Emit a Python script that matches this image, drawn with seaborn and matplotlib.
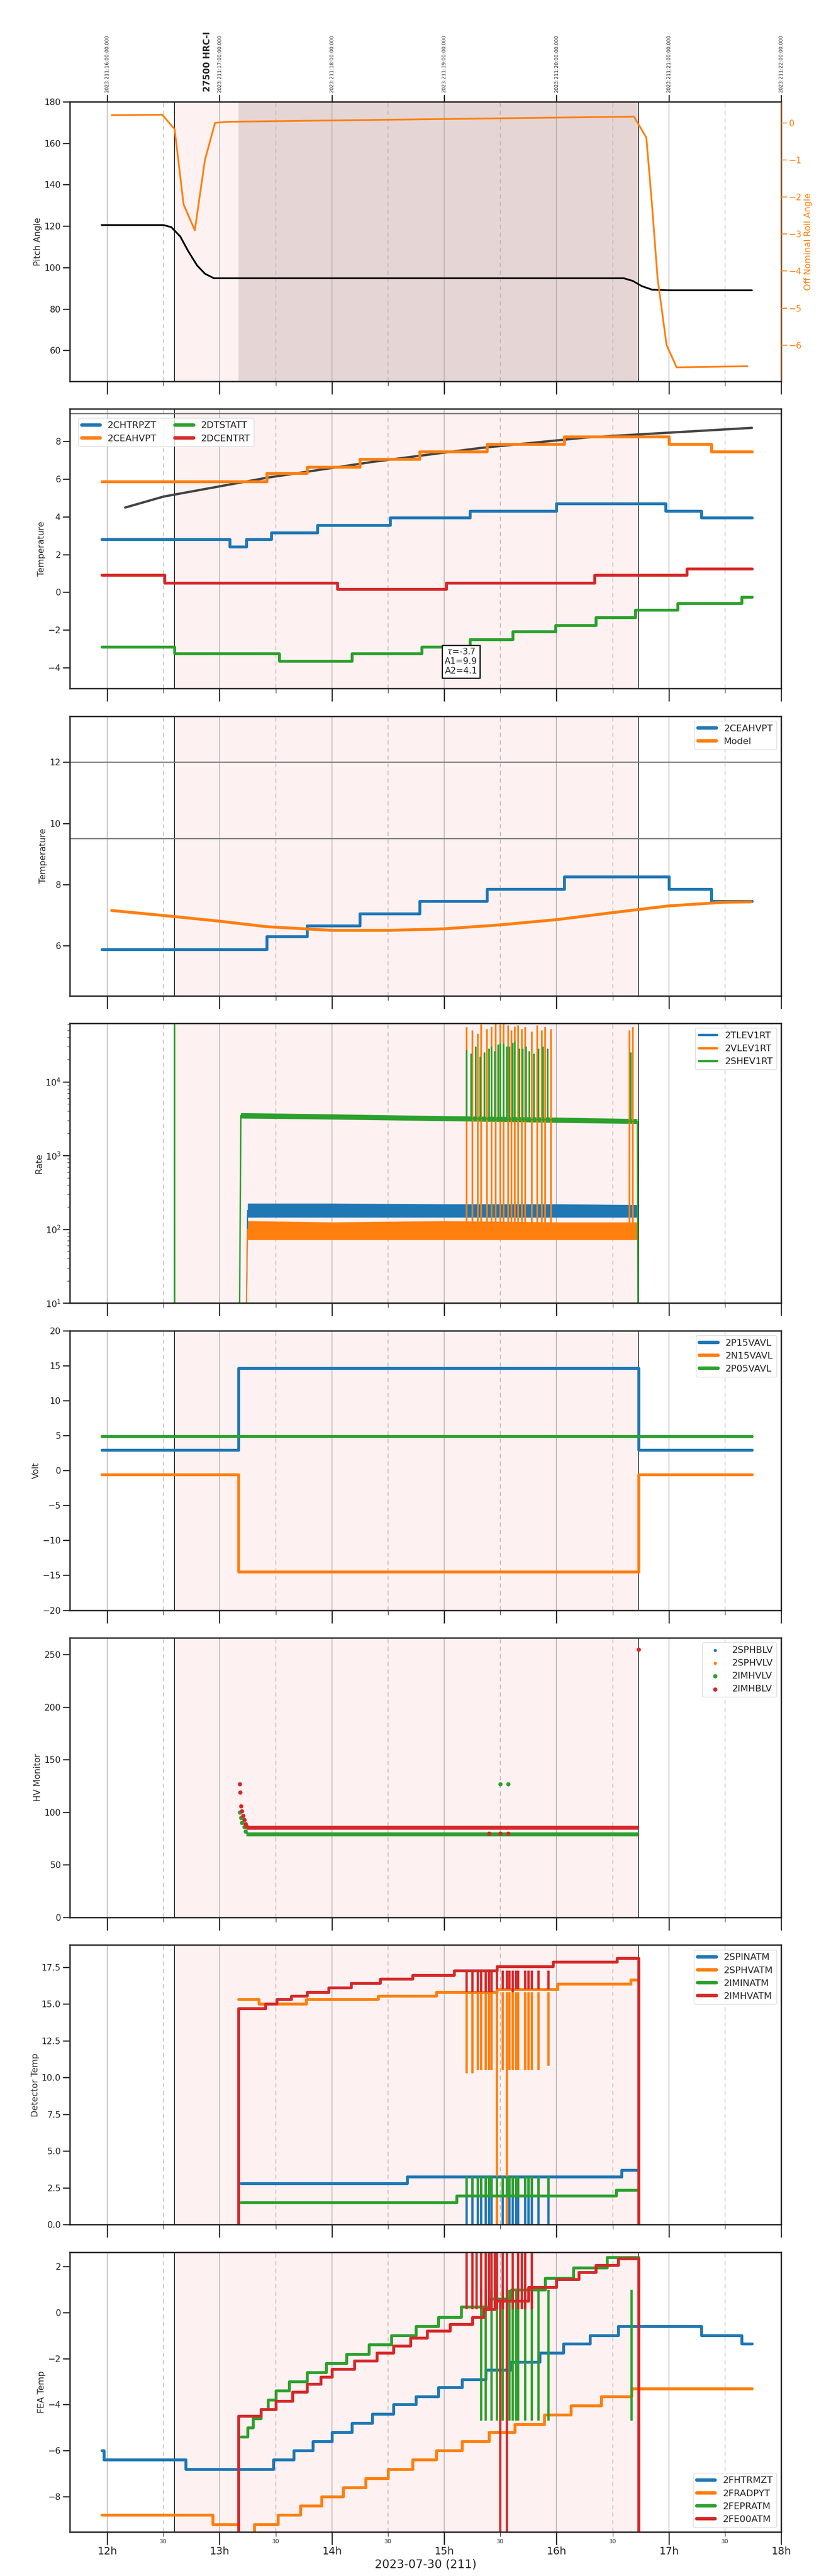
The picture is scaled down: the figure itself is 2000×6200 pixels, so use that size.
import matplotlib
matplotlib.use("Agg")
import matplotlib.pyplot as plt
import numpy as np
import seaborn as sns
from matplotlib.ticker import FixedLocator, NullFormatter

sns.set_theme(style="ticks")
plt.rcParams["font.family"] = ["DejaVu Sans"]

# ---------------- data (hours of 2023-07-30) ----------------
XLIM = (11.667, 18.0)
OBS_START, OBS_END = 12.60, 16.73
DARK_START = 13.17
OBS_LABEL = "27500 HRC-I"
OBS_LABEL_X = 12.89
TOP_HOURS = [12, 13, 14, 15, 16, 17, 18]
TOP_LABELS = ["2023:211:16:00:00.000", "2023:211:17:00:00.000", "2023:211:18:00:00.000",
              "2023:211:19:00:00.000", "2023:211:20:00:00.000", "2023:211:21:00:00.000",
              "2023:211:22:00:00.000"]

pitch_t = [11.95, 12.50, 12.57, 12.65, 12.72, 12.80, 12.87, 12.95, 16.60, 16.68, 16.76, 16.85, 17.00, 17.74]
pitch_v = [120.5, 120.5, 119.5, 115.0, 108.0, 101.0, 97.0, 94.8, 94.8, 93.5, 91.0, 89.3, 89.0, 89.0]
roll_t = [12.04, 12.49, 12.60, 12.68, 12.78, 12.87, 12.96, 13.07, 16.69, 16.80, 16.85, 16.90, 16.98, 17.07, 17.70]
roll_v = [0.21, 0.22, -0.17, -2.2, -2.9, -1.0, 0.0, 0.03, 0.17, -0.4, -2.2, -4.2, -6.0, -6.6, -6.57]

chtrpzt_t = [11.95, 13.09, 13.24, 13.46, 13.87, 14.52, 15.23, 16.00, 16.97, 17.29, 17.74]
chtrpzt_v = [2.8, 2.4, 2.8, 3.15, 3.55, 3.95, 4.3, 4.7, 4.3, 3.95, 3.95]
ceahvpt_t = [11.95, 13.42, 13.78, 14.25, 14.78, 15.38, 16.07, 17.00, 17.38, 17.74]
ceahvpt_v = [5.88, 6.3, 6.65, 7.05, 7.45, 7.85, 8.25, 7.85, 7.45, 7.45]
dtstatt_t = [11.95, 12.60, 13.53, 14.18, 14.80, 15.23, 15.61, 15.99, 16.35, 16.70, 17.08, 17.65, 17.74]
dtstatt_v = [-2.9, -3.25, -3.65, -3.25, -2.9, -2.5, -2.1, -1.75, -1.35, -0.95, -0.6, -0.25, -0.25]
dcentrt_t = [11.95, 12.51, 14.05, 15.02, 16.34, 17.16, 17.74]
dcentrt_v = [0.9, 0.5, 0.15, 0.5, 0.9, 1.25, 1.25]
fit_t = [12.16, 12.50, 13.42, 14.37, 15.32, 16.27, 16.99, 17.74]
fit_v = [4.49, 5.07, 6.07, 6.92, 7.65, 8.21, 8.46, 8.72]
fit_text = "$\\tau$=-3.7\nA1=9.9\nA2=4.1"

model_t = [12.04, 12.60, 13.00, 13.42, 14.00, 14.52, 15.00, 15.50, 16.00, 16.50, 17.00, 17.50, 17.73]
model_v = [7.15, 6.95, 6.80, 6.62, 6.50, 6.50, 6.55, 6.68, 6.85, 7.08, 7.30, 7.42, 7.43]
limit_lines = [12.0, 9.5]

# rates: plateau levels with noise envelope
she_t = [12.599, 12.60, 12.601, 13.17, 13.19, 14.0, 15.0, 16.0, 16.72, 16.73]
she_v = [0.1, 6.2e4, 0.1, 0.1, 3500, 3400, 3200, 3050, 2900, 0.1]
she_lo = [3200, 3100, 2950, 2800, 2700]
she_hi = [3800, 3650, 3450, 3300, 3150]
she_band_t = [13.19, 14.0, 15.0, 16.0, 16.72]
tle_t = [13.25, 14.0, 15.0, 16.0, 16.72]
tle_lo = [145, 145, 145, 145, 145]
tle_hi = [225, 225, 220, 220, 215]
vle_t = [13.25, 14.0, 15.0, 16.0, 16.72]
vle_lo = [72, 72, 72, 72, 72]
vle_hi = [130, 125, 130, 125, 125]
vle_spike_t = [15.20, 15.25, 15.30, 15.33, 15.38, 15.42, 15.46, 15.50, 15.53, 15.57, 15.60, 15.63, 15.66,
               15.69, 15.72, 15.78, 15.83, 15.87, 15.90, 15.95, 16.65, 16.68]
vle_spike_v = [5.5e4, 5.0e4, 4.5e4, 6.0e4, 5.2e4, 5.5e4, 6.2e4, 6.0e4, 6.2e4, 5.8e4, 5.0e4, 5.6e4, 5.8e4,
               5.2e4, 5.5e4, 4.8e4, 5.8e4, 5.0e4, 5.5e4, 5.2e4, 5.0e4, 5.5e4]
she_spike_t = [15.20, 15.24, 15.28, 15.32, 15.36, 15.40, 15.42, 15.45, 15.48, 15.50, 15.53, 15.56, 15.58,
               15.61, 15.63, 15.67, 15.70, 15.73, 15.76, 15.80, 15.84, 15.88, 15.92, 16.66]
she_spike_v = [2.7e4, 2.4e4, 3.0e4, 2.2e4, 2.5e4, 2.8e4, 3.0e4, 2.6e4, 3.2e4, 3.3e4, 3.3e4, 3.0e4, 3.0e4,
               3.4e4, 3.5e4, 2.8e4, 2.8e4, 3.0e4, 2.6e4, 2.4e4, 2.8e4, 3.0e4, 2.8e4, 2.5e4]

p15_t = [11.95, 13.17, 16.73, 17.74]
p15_v = [2.9, 14.6, 2.9, 2.9]
n15_t = [11.95, 13.17, 16.73, 17.74]
n15_v = [-0.6, -14.5, -0.6, -0.6]
p05_t = [11.95, 17.74]
p05_v = [4.9, 4.9]

imhblv_t = [13.18, 13.185, 13.19, 13.20, 13.21, 13.22, 13.23, 13.24, 15.40, 15.50, 15.57, 16.73]
imhblv_v = [127, 119, 106, 101, 97, 93, 89, 87, 80, 80, 80, 255]
imhblv_level = (13.24, 16.73, 85.5)
imhvlv_t = [13.18, 13.19, 13.20, 13.22, 13.23, 15.50, 15.57]
imhvlv_v = [100, 95, 90, 86, 82, 127, 127]
imhvlv_level = (13.24, 16.73, 79.0)

spinatm_t = [13.19, 14.67, 16.58, 16.73]
spinatm_v = [2.8, 3.25, 3.7, 3.7]
sphvatm_t = [13.17, 13.35, 13.77, 14.41, 14.93, 15.47, 16.01, 16.66, 16.73]
sphvatm_v = [15.3, 15.0, 15.3, 15.55, 15.8, 16.0, 16.35, 16.65, 16.65]
iminatm_t = [13.19, 15.11, 16.53, 16.73]
iminatm_v = [1.5, 1.95, 2.35, 2.35]
imhvatm_t = [13.169, 13.17, 13.41, 13.51, 13.64, 13.78, 13.97, 14.17, 14.43, 14.72, 15.09, 15.47, 15.97, 16.54, 16.73, 16.731]
imhvatm_v = [0.0, 14.7, 15.0, 15.3, 15.55, 15.8, 16.1, 16.4, 16.7, 16.95, 17.25, 17.55, 17.85, 18.1, 0.0, 0.0]
det_spike_t = [15.20, 15.25, 15.30, 15.33, 15.37, 15.40, 15.42, 15.47, 15.52, 15.56, 15.58, 15.61, 15.64,
               15.66, 15.72, 15.75, 15.78, 15.84, 15.93]
sph_spike_lo = [10.3, 10.3, 10.5, 10.5, 10.5, 10.5, 10.5, 0.0, 10.5, 0.0, 10.5, 10.5, 10.5,
                10.5, 10.5, 10.5, 10.5, 10.5, 10.8]
imh_spike_lo = [15.8, 15.8, 15.8, 15.8, 15.8, 15.8, 15.8, 16.0, 16.0, 16.0, 16.0, 15.8, 16.0,
                16.0, 16.0, 16.0, 16.0, 16.0, 16.0]
spin_spike_lo = [0.0] * 19
imin_spike_hi = [3.3] * 19

fhtrmzt_t = [11.95, 11.97, 12.70, 13.48, 13.66, 13.83, 14.00, 14.18, 14.36, 14.55, 14.75, 14.95, 15.16, 15.37,
             15.59, 15.85, 16.06, 16.30, 16.55, 17.29, 17.65, 17.74]
fhtrmzt_v = [-6.0, -6.4, -6.8, -6.4, -6.0, -5.6, -5.2, -4.8, -4.4, -4.0, -3.65, -3.25, -2.9, -2.5,
             -2.15, -1.75, -1.35, -1.0, -0.6, -1.0, -1.35, -1.35]
fradpyt_t = [11.95, 12.94, 13.17, 13.31, 13.52, 13.72, 13.91, 14.10, 14.30, 14.50, 14.72, 14.93, 15.16,
             15.40, 15.63, 15.89, 16.13, 16.40, 16.67, 17.74]
fradpyt_v = [-8.8, -9.2, -9.7, -9.2, -8.8, -8.4, -8.0, -7.6, -7.2, -6.8, -6.4, -6.0, -5.6,
             -5.2, -4.85, -4.45, -4.05, -3.65, -3.3, -3.3]
fepratm_t = [13.19, 13.25, 13.30, 13.37, 13.43, 13.50, 13.62, 13.78, 13.95, 14.13, 14.33, 14.53, 14.75,
             14.95, 15.15, 15.40, 15.60, 15.90, 16.15, 16.45, 16.73]
fepratm_v = [-5.4, -5.0, -4.6, -4.2, -3.8, -3.4, -3.0, -2.6, -2.2, -1.8, -1.4, -1.0, -0.6,
             -0.2, 0.25, 0.6, 1.0, 1.5, 1.95, 2.4, 2.4]
fe00atm_t = [13.169, 13.17, 13.37, 13.50, 13.65, 13.78, 13.90, 14.00, 14.20, 14.40, 14.55, 14.70, 14.85,
             15.05, 15.25, 15.35, 15.45, 15.75, 16.00, 16.20, 16.35, 16.55, 16.73, 16.731]
fe00atm_v = [-9.6, -4.5, -4.2, -3.85, -3.45, -3.1, -2.8, -2.45, -2.1, -1.75, -1.45, -1.1, -0.8,
             -0.5, -0.2, 0.15, 0.5, 1.1, 1.45, 1.75, 2.05, 2.35, 2.35, -9.6]
fep_spike_t = [15.33, 15.37, 15.42, 15.47, 15.52, 15.56, 15.58, 15.61, 15.64, 15.66, 15.72, 15.78, 15.84,
               15.93, 16.67]
fep_spike_lo = [-4.7] * 15
fe0_spike_t = [15.20, 15.25, 15.29, 15.33, 15.37, 15.40, 15.42, 15.45, 15.47, 15.52, 15.56, 15.61, 15.66,
               15.69, 15.72, 15.78]
fe0_spike_hi = [2.62] * 16
fe0_drop_t = [15.50, 15.56]

C = sns.color_palette("tab10")

# ---------------- layout ----------------
fig = plt.figure(figsize=(20, 62), dpi=100)
W, H = 2000, 6200
axes = []
for i in range(8):
    top = 245 + 739.4 * i
    ax = fig.add_axes([168 / W, 1 - (top + 673) / H, (1880 - 168) / W, 673 / H])
    axes.append(ax)


def decorate(ax, last=False, dark=False):
    ax.set_xlim(*XLIM)
    ax.axvspan(OBS_START, OBS_END, color="#fdeeee", alpha=0.8, zorder=0, lw=0)
    if dark:
        ax.axvspan(DARK_START, OBS_END, color="#c8b3b3", alpha=0.45, zorder=0.5, lw=0)
    for h in TOP_HOURS:
        ax.axvline(h, color="#aaaaaa", lw=1.2, zorder=0.6)
        ax.axvline(h - 0.5, color="#b0b0b0", lw=1.2, ls=(0, (6, 5)), zorder=0.6)
    ax.axvline(OBS_START, color="black", lw=1.2, zorder=0.7)
    ax.axvline(OBS_END, color="black", lw=1.2, zorder=0.7)
    ax.xaxis.set_major_locator(FixedLocator(TOP_HOURS))
    ax.xaxis.set_minor_locator(FixedLocator([h - 0.5 for h in TOP_HOURS]))
    ax.tick_params(axis="x", which="major", length=22, width=2)
    ax.tick_params(axis="x", which="minor", length=8, width=1)
    ax.tick_params(axis="y", which="major", length=12, width=2, labelsize=15)
    for s in ax.spines.values():
        s.set_linewidth(2.5)
    if last:
        ax.set_xticklabels([f"{h}h" for h in TOP_HOURS], fontsize=18)
        ax.xaxis.set_minor_formatter(matplotlib.ticker.FixedFormatter(["30"] * 7))
        ax.tick_params(axis="x", which="minor", labelsize=10)
        ax.set_xlabel("2023-07-30 (211)", fontsize=20)
    else:
        ax.set_xticklabels([])
        ax.xaxis.set_minor_formatter(NullFormatter())


def leg(ax, lw=6, **kw):
    lg = ax.legend(fontsize=16, frameon=True, fancybox=True, edgecolor="#cccccc", **kw)
    for line in lg.get_lines():
        line.set_linewidth(lw)


LW = 5

# panel 1 - pitch / roll
ax = axes[0]
decorate(ax, dark=True)
sns.lineplot(x=pitch_t, y=pitch_v, color="black", lw=3, ax=ax, sort=False, estimator=None)
ax.set_ylim(45, 180)
ax.set_ylabel("Pitch Angle", fontsize=15)
axr = ax.twinx()
axr.plot(roll_t, roll_v, color=C[1], lw=3)
axr.set_ylim(-6.98, 0.57)
axr.set_ylabel("Off Nominal Roll Angle", color=C[1], fontsize=15)
axr.tick_params(axis="y", colors=C[1], length=10, width=1.5, labelsize=15)
axr.spines["right"].set_color(C[1])
top = ax.secondary_xaxis("top")
top.xaxis.set_major_locator(FixedLocator(TOP_HOURS))
top.set_xticklabels(TOP_LABELS, rotation=90, fontsize=8.5)
top.tick_params(length=12, width=2)
ax.text(OBS_LABEL_X, 1.035, OBS_LABEL, transform=ax.get_xaxis_transform(), rotation=90,
        ha="center", va="bottom", fontsize=15, fontweight="bold")

# panel 2 - temperatures
ax = axes[1]
decorate(ax)
ax.axhline(9.48, color="#777777", lw=2)
ax.plot(fit_t, fit_v, color="#444444", lw=4)
for t, v, lab, c in [(chtrpzt_t, chtrpzt_v, "2CHTRPZT", C[0]), (ceahvpt_t, ceahvpt_v, "2CEAHVPT", C[1]),
                     (dtstatt_t, dtstatt_v, "2DTSTATT", C[2]), (dcentrt_t, dcentrt_v, "2DCENTRT", C[3])]:
    ax.plot(t, v, drawstyle="steps-post", color=c, lw=LW, label=lab)
ax.set_ylim(-5.12, 9.72)
ax.set_ylabel("Temperature", fontsize=15)
ax.text(15.15, -2.95, fit_text, ha="center", va="top", fontsize=15, zorder=5, clip_on=False,
        bbox=dict(facecolor="white", edgecolor="black", lw=2, boxstyle="square,pad=0.3"))
leg(ax, loc="upper left", ncol=2, bbox_to_anchor=(0.005, 0.985))

# panel 3 - model
ax = axes[2]
decorate(ax)
for y in limit_lines:
    ax.axhline(y, color="#777777", lw=2)
ax.plot(ceahvpt_t, ceahvpt_v, drawstyle="steps-post", color=C[0], lw=LW, label="2CEAHVPT")
ax.plot(model_t, model_v, color=C[1], lw=LW, label="Model")
ax.set_ylim(4.36, 13.5)
ax.set_ylabel("Temperature", fontsize=15)
leg(ax, loc="upper right")

# panel 4 - rates
ax = axes[3]
decorate(ax)
ax.set_yscale("log")
ax.fill_between(tle_t, tle_lo, tle_hi, color=C[0], lw=0)
ax.plot([13.24, 13.25], [10, 180], color=C[0], lw=2)
ax.plot(tle_t, [180] * len(tle_t), color=C[0], lw=2, label="2TLEV1RT")
ax.fill_between(vle_t, vle_lo, vle_hi, color=C[1], lw=0)
ax.plot([13.24, 13.25], [10, 100], color=C[1], lw=2)
ax.plot(vle_t, [100] * len(vle_t), color=C[1], lw=2, label="2VLEV1RT")
ax.vlines(vle_spike_t, 80, vle_spike_v, color=C[1], lw=3)
ax.vlines(she_spike_t, 2900, she_spike_v, color=C[2], lw=3)
ax.fill_between(she_band_t, she_lo, she_hi, color=C[2], lw=0)
ax.plot(she_t, she_v, color=C[2], lw=2.5, label="2SHEV1RT")
ax.set_ylim(10, 6.2e4)
ax.set_ylabel("Rate", fontsize=15)
leg(ax, lw=4, loc="upper right")

# panel 5 - volts
ax = axes[4]
decorate(ax)
for t, v, lab, c in [(p15_t, p15_v, "2P15VAVL", C[0]), (n15_t, n15_v, "2N15VAVL", C[1]),
                     (p05_t, p05_v, "2P05VAVL", C[2])]:
    ax.plot(t, v, drawstyle="steps-post", color=c, lw=LW, label=lab)
ax.set_ylim(-20, 20)
ax.set_ylabel("Volt", fontsize=15)
leg(ax, loc="upper right")

# panel 6 - HV monitor
ax = axes[5]
decorate(ax)
ax.scatter([], [], color=C[0], s=20, label="2SPHBLV")
ax.scatter([], [], color=C[1], s=20, label="2SPHVLV")
ax.hlines(imhvlv_level[2], imhvlv_level[0], imhvlv_level[1], color=C[2], lw=7)
ax.scatter(imhvlv_t, imhvlv_v, color=C[2], s=40, label="2IMHVLV")
ax.hlines(imhblv_level[2], imhblv_level[0], imhblv_level[1], color=C[3], lw=7)
ax.scatter(imhblv_t, imhblv_v, color=C[3], s=40, label="2IMHBLV", zorder=4)
ax.set_ylim(0, 266)
ax.set_ylabel("HV Monitor", fontsize=15)
ax.legend(fontsize=16, frameon=True, edgecolor="#cccccc", loc="upper right")

# panel 7 - detector temp
ax = axes[6]
decorate(ax)
ax.vlines(det_spike_t, spin_spike_lo, 3.25, color=C[0], lw=4)
ax.plot(spinatm_t, spinatm_v, drawstyle="steps-post", color=C[0], lw=LW, label="2SPINATM")
ax.vlines(det_spike_t, sph_spike_lo, 15.8, color=C[1], lw=4)
ax.plot(sphvatm_t, sphvatm_v, drawstyle="steps-post", color=C[1], lw=LW, label="2SPHVATM")
ax.vlines(det_spike_t, 1.95, imin_spike_hi, color=C[2], lw=4)
ax.plot(iminatm_t, iminatm_v, drawstyle="steps-post", color=C[2], lw=LW, label="2IMINATM")
ax.vlines(det_spike_t, imh_spike_lo, 17.25, color=C[3], lw=4)
ax.plot(imhvatm_t, imhvatm_v, drawstyle="steps-post", color=C[3], lw=LW, label="2IMHVATM")
ax.set_ylim(0, 19)
ax.set_ylabel("Detector Temp", fontsize=15)
leg(ax, loc="upper right")

# panel 8 - FEA temp
ax = axes[7]
decorate(ax, last=True)
ax.plot(fhtrmzt_t, fhtrmzt_v, drawstyle="steps-post", color=C[0], lw=LW, label="2FHTRMZT")
ax.plot(fradpyt_t, fradpyt_v, drawstyle="steps-post", color=C[1], lw=LW, label="2FRADPYT")
ax.vlines(fep_spike_t, fep_spike_lo, 1.0, color=C[2], lw=4)
ax.plot(fepratm_t, fepratm_v, drawstyle="steps-post", color=C[2], lw=LW, label="2FEPRATM")
ax.vlines(fe0_spike_t, 0.15, fe0_spike_hi, color=C[3], lw=4)
ax.vlines(fe0_drop_t, -9.6, 0.5, color=C[3], lw=4)
ax.plot(fe00atm_t, fe00atm_v, drawstyle="steps-post", color=C[3], lw=LW, label="2FE00ATM")
ax.set_ylim(-9.53, 2.62)
ax.set_ylabel("FEA Temp", fontsize=15)
leg(ax, loc="lower right")

fig.savefig("out.png", dpi=100)
